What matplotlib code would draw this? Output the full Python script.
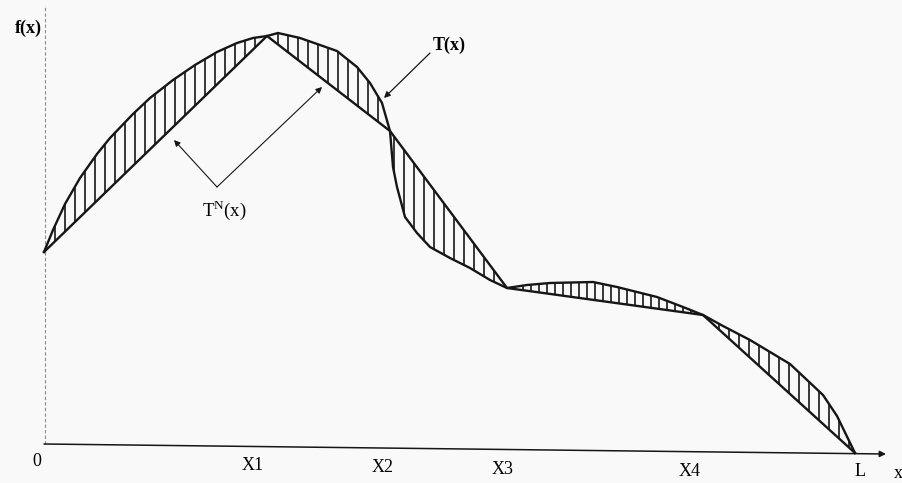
import numpy as np
import matplotlib
matplotlib.use("Agg")
import matplotlib.pyplot as plt

plt.rcParams['font.family'] = ['Liberation Serif', 'DejaVu Serif']
plt.rcParams['mathtext.fontset'] = 'custom'
plt.rcParams['mathtext.rm'] = 'Liberation Serif'

# piecewise linear interpolant T^N (nodes 0, X1, X2, X3, X4, L)
tn_x = [0, 223, 346, 463, 659, 811]
tn_y = [198, 414, 319, 162, 135, -3]

# smooth function T(x)
t_x = [0, 9, 21, 36, 53, 66, 89, 106, 129, 151, 173, 193, 209, 223,
       234, 256, 276, 293, 313, 326, 338, 346,
       349, 353, 361, 373, 386, 406, 426, 446, 463,
       483, 506, 549, 573, 613, 639, 659,
       679, 706, 746, 779, 793, 811]
t_y = [198, 220, 246, 272, 296, 312, 336, 352, 370, 385, 398, 407, 412, 414,
       417, 412, 405, 399, 383, 367, 347, 319,
       283, 263, 233, 217, 203, 192, 182, 170, 162,
       165, 167, 168, 163, 153, 143, 135,
       124, 110, 86, 55, 34, -3]

tick_labels = ['0', 'X1', 'X2', 'X3', 'X4', 'L']
tick_x = [-7, 209, 339, 459, 646, 816]
tick_y = [-12, -16, -18, -20, -21, -22]

# hatch spacing per interval
hatch_step = [10, 10, 10, 8, 10]
hatch_first = [11, 11, 4, 8, 16]

ink = '#161616'

fig = plt.figure(figsize=(9.02, 4.83), dpi=100)
fig.patch.set_facecolor('#f9f9f9')
ax = fig.add_axes([0, 0, 1, 1])
ax.set_facecolor('#f9f9f9')
ax.set_xlim(-44, 858)
ax.set_ylim(-33, 450)
ax.axis('off')

# axes
ax.plot([1, 1], [6, 445], color='#8a8a8a', lw=0.8, ls=(0, (3, 2)))
ax.annotate('', xy=(842, -4), xytext=(0, 6),
            arrowprops=dict(arrowstyle='-|>', color=ink, lw=1.1,
                            mutation_scale=9, shrinkA=0, shrinkB=0))

# hatching between T and T^N
for i in range(len(tn_x) - 1):
    xs = np.arange(tn_x[i] + hatch_first[i], tn_x[i + 1] - 3, hatch_step[i])
    ax.vlines(xs, np.interp(xs, tn_x, tn_y), np.interp(xs, t_x, t_y),
              color=ink, lw=1.2)

ax.plot(t_x, t_y, color=ink, lw=1.7, solid_joinstyle='round')
ax.plot(tn_x, tn_y, color=ink, lw=1.7, solid_joinstyle='miter')

# labels and arrows
ax.text(-16, 422, 'f(x)', fontsize=13, fontweight='bold', ha='center', va='center')
ax.text(405, 405, 'T(x)', fontsize=13, fontweight='bold', ha='center', va='center')
ax.annotate('', xy=(340, 352), xytext=(386, 397),
            arrowprops=dict(arrowstyle='-|>', color=ink, lw=0.9,
                            mutation_scale=9, shrinkA=0, shrinkB=0))
ax.text(180, 240, r'T$^{\mathrm{N}}$(x)', fontsize=13.5, ha='center', va='center')
for hx, hy in [(130, 310), (278, 363)]:
    ax.annotate('', xy=(hx, hy), xytext=(173, 263),
                arrowprops=dict(arrowstyle='-|>', color=ink, lw=0.8,
                                mutation_scale=9, shrinkA=0, shrinkB=0))

for lab, lx, ly in zip(tick_labels, tick_x, tick_y):
    ax.text(lx, ly, lab, fontsize=13, ha='center', va='center')
ax.text(854, -23, 'x', fontsize=13, ha='center', va='center')

fig.savefig('out.png', dpi=100, facecolor=fig.get_facecolor())
